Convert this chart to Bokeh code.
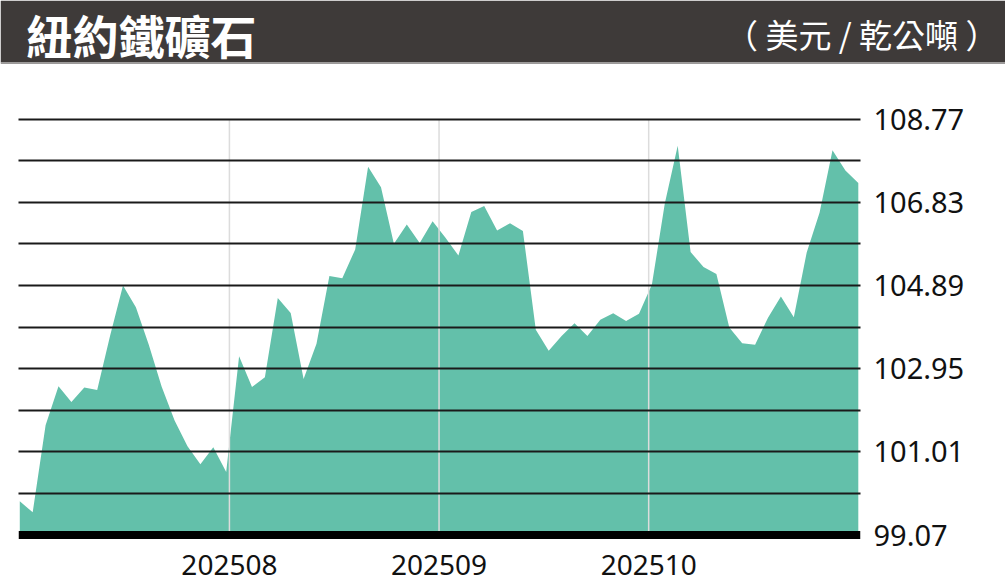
from bokeh.plotting import figure
from bokeh.layouts import column, row
from bokeh.models import Range1d, FixedTicker, Span
from bokeh.core.properties import value
from bokeh.embed import file_html
from bokeh.resources import INLINE

# ---- data ----
title_text = "紐約鐵礦石"
unit_text = "（ 美元 / 乾公噸 ）"
month_labels = ["202508", "202509", "202510"]
month_positions = [16.25, 32.5, 48.75]
y_tick_values = [99.07, 101.01, 102.95, 104.89, 106.83, 108.77]
y_tick_labels = ["99.07", "101.01", "102.95", "104.89", "106.83", "108.77"]
grid_values = [100.04, 101.01, 101.98, 102.95, 103.92, 104.89, 105.86, 106.83, 107.80, 108.77]
prices = [
    99.86, 99.60, 101.63, 102.54, 102.17, 102.51, 102.45, 103.72, 104.89, 104.38,
    103.51, 102.53, 101.74, 101.14, 100.72, 101.12, 100.54, 103.24, 102.52, 102.75,
    104.60, 104.25, 102.71, 103.53, 105.11, 105.06, 105.73, 107.66, 107.18, 105.86,
    106.31, 105.88, 106.39, 106.00, 105.59, 106.60, 106.74, 106.17, 106.34, 106.16,
    103.86, 103.37, 103.71, 104.01, 103.71, 104.09, 104.24, 104.06, 104.23, 104.91,
    106.80, 108.15, 105.67, 105.32, 105.16, 103.91, 103.54, 103.51, 104.14, 104.63,
    104.15, 105.66, 106.59, 108.04, 107.57, 107.28,
]
idx = list(range(len(prices)))

FONT_CJK = "Noto Sans CJK TC"
FONT_NUM = "Noto Sans"
BAR = "#3e3a39"

# ---- title bar (canvas 70px tall: dark band on top, thin grey rule, white gap) ----
head = figure(width=1005, height=70, x_range=Range1d(0, 1005), y_range=Range1d(0, 70),
              output_backend="svg", toolbar_location=None,
              min_border_left=0, min_border_right=0, min_border_top=0, min_border_bottom=0,
              background_fill_color="white", border_fill_color="white",
              outline_line_color=None)
head.axis.visible = False
head.grid.visible = False
head.quad(left=0, right=1005, bottom=8, top=70, fill_color=BAR, line_color=None)
head.quad(left=0, right=1005, bottom=6.5, top=8, fill_color="#9b9999", line_color=None)
head.text(x=[26], y=[37], text=[title_text], text_color="white",
          text_font=value(FONT_CJK), text_font_size="46px", text_font_style="bold",
          text_baseline="middle", text_align="left")
head.text(x=[998], y=[37], text=[unit_text], text_color="white",
          text_font=value(FONT_CJK), text_font_size="33px",
          text_baseline="middle", text_align="right")

# ---- main chart ----
p = figure(width=1005, height=511, output_backend="svg", toolbar_location=None,
           x_range=Range1d(-0.1, 65.17), y_range=Range1d(98.967, 109.902),
           y_axis_location="right",
           min_border_left=18, min_border_right=145, min_border_top=0, min_border_bottom=42,
           outline_line_color=None, background_fill_color="white")

p.varea(x=idx, y1=99.07, y2=prices, fill_color="#63c0aa", fill_alpha=1.0)
p.segment(x0=month_positions, y0=99.07, x1=month_positions, y1=108.77,
          line_color="#dcdcdc", line_width=1.5)

p.add_layout(Span(location=99.07, dimension="width", line_color="black", line_width=8))

p.xgrid.visible = False
p.ygrid.ticker = FixedTicker(ticks=grid_values)
p.ygrid.grid_line_color = "#1a1a1a"
p.ygrid.grid_line_width = 2
p.ygrid.level = "overlay"

ya = p.yaxis[0]
ya.ticker = FixedTicker(ticks=y_tick_values)
ya.major_label_overrides = dict(zip(y_tick_values, y_tick_labels))
ya.axis_line_color = None
ya.major_tick_line_color = None
ya.minor_tick_line_color = None
ya.major_tick_out = 0
ya.major_tick_in = 0
ya.major_label_standoff = 13
ya.major_label_text_font = FONT_NUM
ya.major_label_text_font_size = "29px"
ya.major_label_text_color = "#111111"

xa = p.xaxis[0]
xa.ticker = FixedTicker(ticks=month_positions)
xa.major_label_overrides = dict(zip(month_positions, month_labels))
xa.axis_line_color = None
xa.major_tick_line_color = None
xa.minor_tick_line_color = None
xa.major_tick_out = 0
xa.major_tick_in = 0
xa.major_label_standoff = 15
xa.major_label_text_font = FONT_NUM
xa.major_label_text_font_size = "28px"
xa.major_label_text_color = "#111111"

layout = column(head, row(p), spacing=0)

open("out.html", "w").write(file_html(layout, INLINE))
